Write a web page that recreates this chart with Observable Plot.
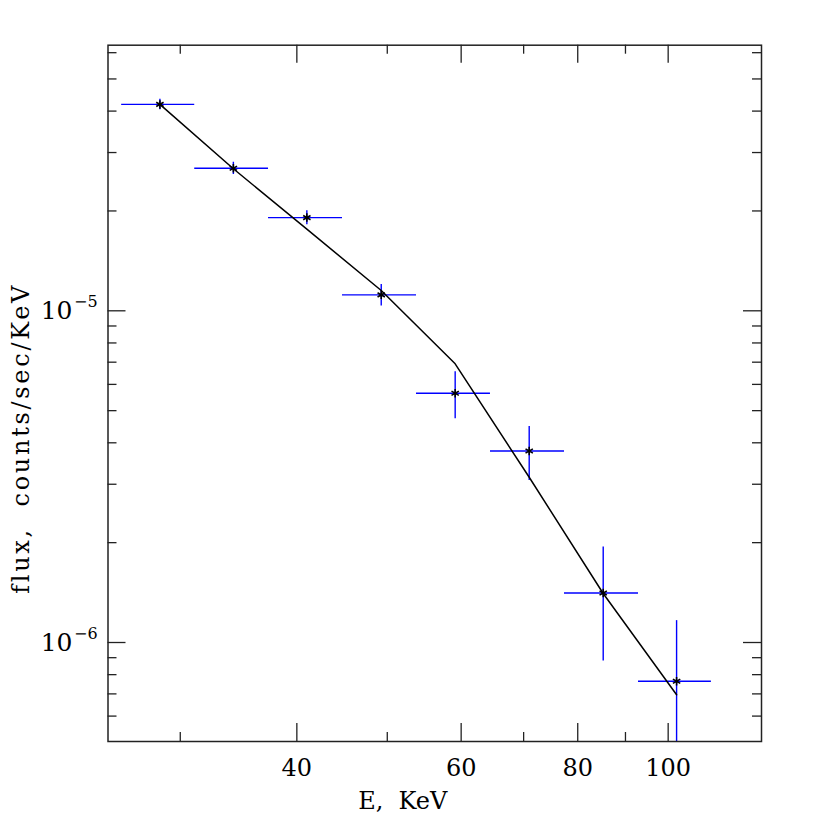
<!DOCTYPE html>
<html>
<head>
<meta charset="utf-8">
<script src="https://cdn.jsdelivr.net/npm/d3@7"></script>
<script src="https://cdn.jsdelivr.net/npm/@observablehq/plot@0.6"></script>
<style>
  html, body { margin: 0; padding: 0; background: #fff; }
  #chart svg { display: block; }
</style>
</head>
<body>
<div id="chart"></div>
<script>
// Spectral bins (keV)
const energy   = [28.53, 34.20, 41.00, 49.26, 59.12, 70.97, 85.19, 102.1];
const energyLo = [25.96, 31.09, 37.30, 44.77, 53.74, 64.50, 77.43, 92.94];
const energyHi = [31.09, 37.30, 44.77, 53.74, 64.50, 77.43, 92.94, 111.26];
// Measured flux (counts/sec/keV) and 1-sigma errors
const flux    = [4.19e-5, 2.69e-5, 1.91e-5, 1.117e-5, 5.64e-6, 3.78e-6, 1.41e-6, 7.64e-7];
const fluxErr = [1.5e-6, 1.15e-6, 0.93e-6, 0.83e-6, 0.91e-6, 0.70e-6, 0.53e-6, 0.40e-6];
// Model curve evaluated at bin centres
const model   = [4.19e-5, 2.68e-5, 1.763e-5, 1.151e-5, 6.92e-6, 3.149e-6, 1.405e-6, 6.956e-7];

// Axis ticks
const xMajor = [40, 60, 80, 100];
const xMinor = [30, 50, 70, 90];
const yMajor = [1e-6, 1e-5];
const yMinor = [6e-7, 7e-7, 8e-7, 9e-7, 2e-6, 3e-6, 4e-6, 5e-6, 6e-6, 7e-6, 8e-6, 9e-6, 2e-5, 3e-5, 4e-5, 5e-5, 6e-5];
const yExponent = [-6, -5];

const xLabel = "E,  KeV";
const yLabel = "flux,  counts/sec/KeV";

const rows = energy.map((e, i) => ({
  e, lo: energyLo[i], hi: energyHi[i],
  f: flux[i], fLo: flux[i] - fluxErr[i], fHi: flux[i] + fluxErr[i],
  m: model[i]
}));

const W = 830, H = 830;
const mL = 107.5, mR = 69, mT = 44.7, mB = 89;
const pw = W - mL - mR, ph = H - mT - mB;
const majorLen = 18, minorLen = 9;
const font = "DejaVu Serif";
const axisStroke = "#222";
const blue = "#0000ff";

const chart = Plot.plot({
  width: W, height: H,
  marginLeft: mL, marginRight: mR, marginTop: mT, marginBottom: mB,
  style: { background: "white", fontFamily: font },
  x: { type: "log", domain: [25.1, 125.9], axis: null },
  y: { type: "log", domain: [5.03e-7, 6.32e-5], axis: null },
  marks: [
    // error bars
    Plot.ruleY(rows, { y: "f", x1: "lo", x2: "hi", stroke: blue, strokeWidth: 1.4, clip: true }),
    Plot.ruleX(rows, { x: "e", y1: "fLo", y2: "fHi", stroke: blue, strokeWidth: 1.4, clip: true }),
    // model
    Plot.line(rows, { x: "e", y: "m", stroke: "black", strokeWidth: 1.5 }),
    // data markers
    Plot.dot(rows, { x: "e", y: "f", symbol: "asterisk", r: 4, stroke: "black", strokeWidth: 1.6 }),
    // ticks, bottom/top
    Plot.ruleX(xMajor, { x: d => d, insetTop: ph - majorLen, stroke: axisStroke, strokeWidth: 1.3 }),
    Plot.ruleX(xMinor, { x: d => d, insetTop: ph - minorLen, stroke: axisStroke, strokeWidth: 1.3 }),
    Plot.ruleX(xMajor, { x: d => d, insetBottom: ph - majorLen, stroke: axisStroke, strokeWidth: 1.3 }),
    Plot.ruleX(xMinor, { x: d => d, insetBottom: ph - minorLen, stroke: axisStroke, strokeWidth: 1.3 }),
    // ticks, left/right
    Plot.ruleY(yMajor, { y: d => d, insetRight: pw - majorLen, stroke: axisStroke, strokeWidth: 1.3 }),
    Plot.ruleY(yMinor, { y: d => d, insetRight: pw - minorLen, stroke: axisStroke, strokeWidth: 1.3 }),
    Plot.ruleY(yMajor, { y: d => d, insetLeft: pw - majorLen, stroke: axisStroke, strokeWidth: 1.3 }),
    Plot.ruleY(yMinor, { y: d => d, insetLeft: pw - minorLen, stroke: axisStroke, strokeWidth: 1.3 }),
    Plot.frame({ stroke: axisStroke, strokeWidth: 1.5 }),
    // x tick labels
    Plot.text(xMajor, { x: d => d, frameAnchor: "bottom", dy: 27, text: d => String(d),
      fontSize: 24, fontFamily: font, fill: "black", lineAnchor: "middle" }),
    // y tick labels: "10" + superscript exponent
    Plot.text(yMajor, { y: d => d, frameAnchor: "left", dx: -35.5, text: () => "10",
      textAnchor: "end", lineAnchor: "middle", fontSize: 25, fontFamily: font, fill: "black" }),
    Plot.text(yMajor, { y: d => d, frameAnchor: "left", dx: -34, dy: -9,
      text: (d, i) => "\u2212" + Math.abs(yExponent[i]),
      textAnchor: "start", lineAnchor: "middle", fontSize: 16, fontFamily: font, fill: "black" }),
    // axis titles
    Plot.text([xLabel], { frameAnchor: "bottom", dx: -32, dy: 60, text: d => d,
      fontSize: 24, fontFamily: font, fill: "black", lineAnchor: "middle", textAnchor: "middle" }),
    Plot.text([yLabel], { frameAnchor: "left", dx: -87, dy: 45, rotate: -90, text: d => d,
      fontSize: 24, fontFamily: font, fill: "black", lineAnchor: "middle", textAnchor: "middle" })
  ]
});
// widen the vertical axis title to match the reference's broad lettering
d3.select(chart).selectAll("text")
  .filter(function () { return this.textContent === yLabel; })
  .attr("letter-spacing", 2.7);
document.getElementById("chart").appendChild(chart);
</script>
</body>
</html>
